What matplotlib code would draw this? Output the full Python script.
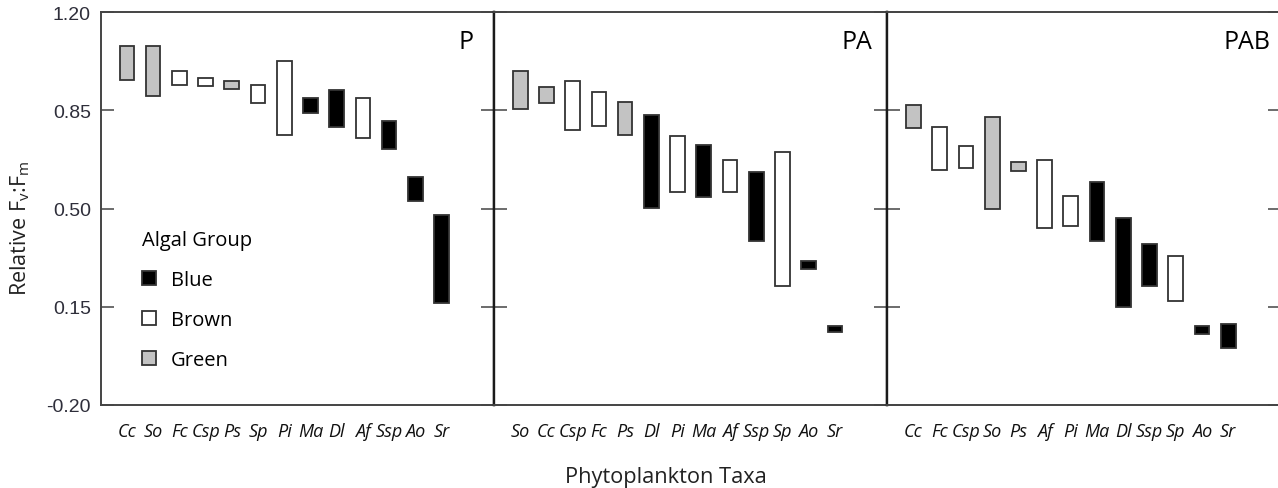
import numpy as np
import matplotlib
matplotlib.use('Agg')
import matplotlib.pyplot as plt
from matplotlib.patches import Patch

# range of relative Fv:Fm per taxon, one panel per treatment
p_taxa = ['Cc', 'So', 'Fc', 'Csp', 'Ps', 'Sp', 'Pi', 'Ma', 'Dl', 'Af', 'Ssp', 'Ao', 'Sr']
p_group = ['Green', 'Green', 'Brown', 'Brown', 'Green', 'Brown', 'Brown',
           'Blue', 'Blue', 'Brown', 'Blue', 'Blue', 'Blue']
p_low = [0.959, 0.902, 0.940, 0.938, 0.927, 0.878, 0.761, 0.841, 0.792, 0.751, 0.712, 0.529, 0.163]
p_high = [1.081, 1.081, 0.991, 0.966, 0.954, 0.941, 1.026, 0.894, 0.924, 0.893, 0.814, 0.613, 0.478]

pa_taxa = ['So', 'Cc', 'Csp', 'Fc', 'Ps', 'Dl', 'Pi', 'Ma', 'Af', 'Ssp', 'Sp', 'Ao', 'Sr']
pa_group = ['Green', 'Green', 'Brown', 'Brown', 'Green', 'Blue', 'Brown',
            'Blue', 'Brown', 'Blue', 'Brown', 'Blue', 'Blue']
pa_low = [0.854, 0.878, 0.780, 0.793, 0.762, 0.504, 0.560, 0.541, 0.560, 0.383, 0.225, 0.286, 0.061]
pa_high = [0.991, 0.935, 0.955, 0.917, 0.880, 0.833, 0.759, 0.728, 0.673, 0.632, 0.703, 0.313, 0.082]

pab_taxa = ['Cc', 'Fc', 'Csp', 'So', 'Ps', 'Af', 'Pi', 'Ma', 'Dl', 'Ssp', 'Sp', 'Ao', 'Sr']
pab_group = ['Green', 'Brown', 'Brown', 'Green', 'Green', 'Brown', 'Brown',
             'Blue', 'Blue', 'Blue', 'Brown', 'Blue', 'Blue']
pab_low = [0.787, 0.639, 0.646, 0.500, 0.634, 0.432, 0.438, 0.383, 0.151, 0.224, 0.170, 0.054, 0.004]
pab_high = [0.868, 0.790, 0.723, 0.825, 0.666, 0.673, 0.545, 0.595, 0.466, 0.375, 0.332, 0.082, 0.089]

panel_names = ['P', 'PA', 'PAB']
groups = ['Blue', 'Brown', 'Green']
yticks = [1.20, 0.85, 0.50, 0.15, -0.20]

fills = {'Blue': 'black', 'Brown': 'white', 'Green': '#c3c3c3'}
edge = '#333333'

panels = [
    (p_taxa, p_group, p_low, p_high),
    (pa_taxa, pa_group, pa_low, pa_high),
    (pab_taxa, pab_group, pab_low, pab_high),
]

W, H = 1278, 489
fig = plt.figure(figsize=(W / 100, H / 100), dpi=100)

lefts = [100.7, 494.0, 887.3]
pw = 393.3
top, bottom = 13.3, 406.0
label_x = [0.947, 0.961, 0.974]

axes = []
for k, (taxa, grp, lo, hi) in enumerate(panels):
    ax = fig.add_axes([lefts[k] / W, 1 - bottom / H, pw / W, (bottom - top) / H])
    axes.append(ax)
    x = np.arange(1, len(taxa) + 1)
    lo = np.array(lo)
    hi = np.array(hi)
    ax.bar(x, hi - lo, bottom=lo, width=0.56,
           color=[fills[g] for g in grp], edgecolor=edge, linewidth=1.3)
    ax.set_xlim(0, 15)
    ax.set_ylim(-0.20, 1.20)
    ax.set_xticks(x)
    ax.set_xticklabels(taxa, fontfamily='Open Sans', fontstyle='italic',
                       fontsize=13, color='#111111')
    ax.tick_params(axis='x', length=0, pad=12)
    ax.set_yticks(yticks)
    ax.tick_params(axis='y', direction='in', length=9.5, width=1.1,
                   color='#444444', left=True, right=True)
    if k == 0:
        ax.set_yticklabels(['%.2f' % v for v in yticks], fontfamily='Liberation Sans',
                           fontsize=14, color='#2e2e3a')
        ax.tick_params(axis='y', pad=7)
    else:
        ax.set_yticklabels([])
    for s in ax.spines.values():
        s.set_color('#444444')
        s.set_linewidth(1.4)
    # dividers between panels are drawn darker
    if k > 0:
        ax.spines['left'].set_color('#1a1a1a')
        ax.spines['left'].set_linewidth(1.7)
    if k < 2:
        ax.spines['right'].set_color('#1a1a1a')
        ax.spines['right'].set_linewidth(1.7)
    ax.text(label_x[k], 0.908, panel_names[k], transform=ax.transAxes,
            ha='right', va='baseline', fontfamily='Open Sans', fontsize=18)

# legend for the algal groups, in the first panel
handles = [Patch(facecolor=fills[g], edgecolor=edge, linewidth=1.3, label=g) for g in groups]
leg = axes[0].legend(handles=handles, title='Algal Group', loc='upper left',
                     bbox_to_anchor=(0.106, 0.445), frameon=False,
                     prop={'family': 'Open Sans', 'size': 14.5},
                     title_fontproperties={'family': 'Open Sans', 'size': 14.5},
                     alignment='left', handlelength=0.7, handleheight=0.7,
                     handletextpad=0.7, labelspacing=0.99, borderpad=0,
                     borderaxespad=0)

fig.text(20 / W, 1 - 228 / H, r'Relative F$_{\mathregular{v}}$:F$_{\mathregular{m}}$',
         rotation=90, ha='center', va='center', fontfamily='Open Sans',
         fontsize=15.5, color='#222222')
fig.text(666 / W, 1 - 483.3 / H, 'Phytoplankton Taxa', ha='center', va='baseline',
         fontfamily='Open Sans', fontsize=15.7, color='#222222')

fig.savefig('out.png', dpi=100)
